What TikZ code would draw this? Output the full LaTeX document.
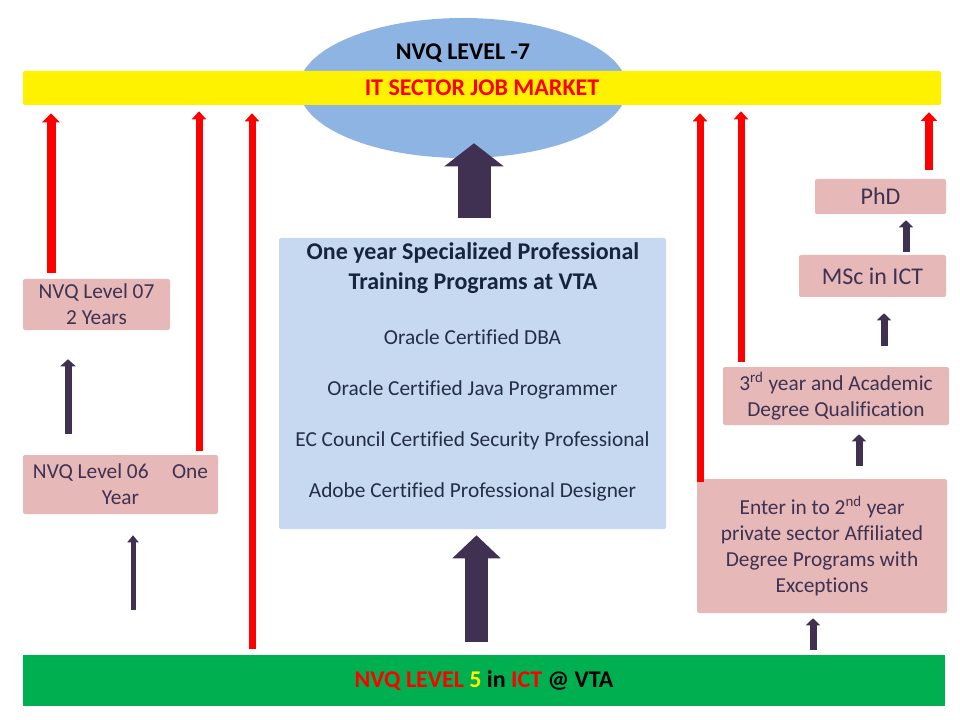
\documentclass[tikz,border=0pt]{standalone}
\usepackage{fontspec}
\setmainfont[Ligatures=NoCommon]{Carlito}
\usetikzlibrary{arrows.meta,shapes.geometric}
\definecolor{ellc}{HTML}{8EB4E3}
\definecolor{cboxc}{HTML}{C6D9F1}
\definecolor{pinkc}{HTML}{E6B9B8}
\definecolor{pinktext}{HTML}{3F3151}
\definecolor{darkarr}{HTML}{403152}
\definecolor{greenc}{HTML}{00B050}
\definecolor{titletext}{HTML}{17243D}
\definecolor{itemtext}{HTML}{232E45}
\tikzset{
  pinkbox/.style={fill=pinkc, rounded corners=1.5pt, inner sep=0pt, align=center,
    text=pinktext, font=\fontsize{16}{19.5}\selectfont},
  bigpink/.style={pinkbox, font=\fontsize{18}{22}\selectfont},
  bartext/.style={font=\fontsize{18}{22}\selectfont\bfseries},
  titlestyle/.style={anchor=base, text=titletext, font=\fontsize{18}{22}\selectfont\bfseries},
  itemstyle/.style={anchor=base, text=itemtext, font=\fontsize{16}{19.5}\selectfont},
  redarr/.style={draw=red, line width=5.25pt, -{Triangle[width=10.5pt,length=6pt]}},
  redthick/.style={draw=red, line width=6.75pt, -{Triangle[width=12.75pt,length=6.75pt]}},
  darr/.style={draw=darkarr, line width=5.25pt, -{Triangle[width=10.5pt,length=5.25pt]}},
  darrthin/.style={draw=darkarr, line width=3.75pt, -{Triangle[width=8.25pt,length=5.25pt]}},
  bigarr/.style={draw=darkarr, line width=24.75pt, -{Triangle[width=43.5pt,length=17.25pt]}},
  bigarrb/.style={draw=darkarr, line width=17.25pt, -{Triangle[width=35.25pt,length=17.25pt]}},
}
\begin{document}
\begin{tikzpicture}[x=0.75pt,y=-0.75pt]
\useasboundingbox (0,0) rectangle (960,720);

% top: ellipse and job market bar
\node[ellipse, fill=ellc, minimum width=246pt, minimum height=105pt, inner sep=0pt] (ell) at (463,88) {};
\node[fill=yellow, rounded corners=1pt, minimum width=688.5pt, minimum height=25.5pt, inner sep=0pt,
      bartext, text=red] (market) at (482,88) {IT SECTOR JOB MARKET};
\node[anchor=base, bartext, text=black] (lvl7) at (463,59.3) {NVQ LEVEL -7};

% bottom bar
\node[fill=greenc, minimum width=691.5pt, minimum height=38.25pt, inner sep=0pt, bartext, text=black]
  (nvq5) at (484,680.5) {\textcolor{red}{NVQ LEVEL} \textcolor{yellow}{5} in \textcolor{red}{ICT} @ VTA};

% centre box
\node[fill=cboxc, rounded corners=1.5pt, minimum width=290.25pt, minimum height=218.25pt, inner sep=0pt]
  (cbox) at (472.5,383.5) {};
\node[titlestyle] (ct1) at (473,260) {One year Specialized Professional};
\node[titlestyle] (ct2) at (473,289.3) {Training Programs at VTA};
\node[itemstyle] (it1) at (472.5,344.5) {Oracle Certified DBA};
\node[itemstyle] (it2) at (472.5,395.7) {Oracle Certified Java Programmer};
\node[itemstyle] (it3) at (472.5,446.7) {EC Council Certified Security Professional};
\node[itemstyle] (it4) at (472.5,497.5) {Adobe Certified Professional Designer};

% left boxes
\node[pinkbox, minimum width=110.25pt, minimum height=38.25pt] (nvq7) at (96.5,304.5) {NVQ Level 07\\2 Years};
\node[pinkbox, minimum width=146.25pt, minimum height=44.25pt] (nvq6) at (120.5,484.5) {NVQ Level 06\hspace{1.1em}One\\Year};

% right boxes
\node[bigpink, minimum width=98.25pt, minimum height=26.25pt] (phd) at (880.5,196.5) {PhD};
\node[bigpink, minimum width=110.25pt, minimum height=31.5pt] (msc) at (872.5,276) {MSc in ICT};
\node[pinkbox, minimum width=169.5pt, minimum height=43.5pt] (third) at (836,396)
  {3\textsuperscript{rd} year and Academic\\Degree Qualification};
\node[pinkbox, minimum width=187.5pt, minimum height=100.5pt] (enter) at (822,546)
  {Enter in to 2\textsuperscript{nd} year\\private sector Affiliated\\Degree Programs with\\Exceptions};

% x positions of connectors
\coordinate (xr1) at (51,0);
\coordinate (xr2) at (199,0);
\coordinate (xr3) at (252,0);
\coordinate (xr4) at (700,0);
\coordinate (xr5) at (741,0);
\coordinate (xr6) at (929,0);
\coordinate (xd1) at (68,0);
\coordinate (xd2) at (133,0);
\coordinate (xd3) at (906,0);
\coordinate (xd4) at (884,0);
\coordinate (xd5) at (859,0);
\coordinate (xd6) at (813,0);
\coordinate (xb1) at (474,0);
\coordinate (xb2) at (476.5,0);

% red arrows to the job market
\draw[redthick, shorten <=4.5pt, shorten >=6pt] (nvq7.north -| xr1) -- (market.south -| xr1);
\draw[redarr, shorten <=3pt, shorten >=4.5pt] (nvq6.north -| xr2) -- (market.south -| xr2);
\draw[redarr, shorten <=4.5pt, shorten >=6pt] (nvq5.north -| xr3) -- (market.south -| xr3);
\draw[redarr, shorten <=-2.25pt, shorten >=6pt] (enter.north -| xr4) -- (market.south -| xr4);
\draw[redarr, shorten <=3.75pt, shorten >=4.5pt] (third.north -| xr5) -- (market.south -| xr5);
\draw[redarr, line width=6pt, -{Triangle[width=12pt,length=6.5pt]}, shorten <=6.75pt, shorten >=5.25pt]
  (phd.north -| xr6) -- (market.south -| xr6);

% dark progression arrows
\draw[darr, -{Triangle[width=11.25pt,length=5.25pt]}, shorten <=15.75pt, shorten >=21.75pt]
  (nvq6.north -| xd1) -- (nvq7.south -| xd1);
\draw[darrthin, shorten <=33.75pt, shorten >=15.75pt] (nvq5.north -| xd2) -- (nvq6.south -| xd2);
\draw[darr, shorten <=2.25pt, shorten >=4.5pt] (msc.north -| xd3) -- (phd.south -| xd3);
\draw[darr, shorten <=15.75pt, shorten >=12pt] (third.north -| xd4) -- (msc.south -| xd4);
\draw[darr, shorten <=9.75pt, shorten >=6.75pt] (enter.north -| xd5) -- (third.south -| xd5);
\draw[darr, shorten <=3.75pt, shorten >=3.75pt] (nvq5.north -| xd6) -- (enter.south -| xd6);

% big arrows
\draw[bigarr, shorten <=15pt, shorten >=-11.25pt] (cbox.north -| xb1) -- (ell.south -| xb1);
\draw[bigarrb, shorten <=9.75pt, shorten >=4.5pt] (nvq5.north -| xb2) -- (cbox.south -| xb2);
\end{tikzpicture}
\end{document}
